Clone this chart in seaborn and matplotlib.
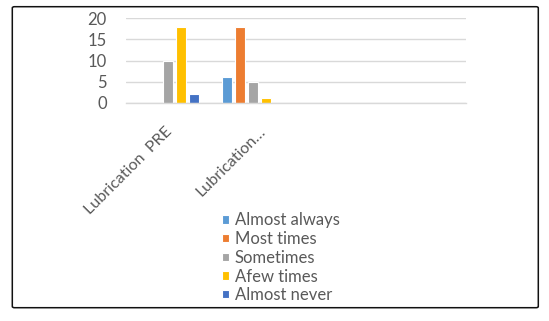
import matplotlib
matplotlib.use("Agg")
import matplotlib.pyplot as plt
import matplotlib.transforms as mtransforms
from matplotlib.patches import FancyBboxPatch
import seaborn as sns
import pandas as pd

# ---- data ----
categories = ["Lubrication  PRE", "Lubrication\u2026", " ", "  "]
series = ["Almost always", "Most times", "Sometimes", "Afew times", "Almost never"]
almost_always = [0, 6, 0, 0]
most_times = [0, 18, 0, 0]
sometimes = [10, 5, 0, 0]
afew_times = [18, 1, 0, 0]
almost_never = [2, 0, 0, 0]
colors = ["#5B9BD5", "#ED7D31", "#A5A5A5", "#FFC000", "#4472C4"]
y_ticks = [0, 5, 10, 15, 20]

rows = []
for s, vals in zip(series, [almost_always, most_times, sometimes, afew_times, almost_never]):
    for c, v in zip(categories, vals):
        rows.append({"category": c, "series": s, "value": v})
df = pd.DataFrame(rows)

sns.set_style("white")
plt.rcParams["font.family"] = ["Lato", "DejaVu Sans"]

DPI = 100
W, H = 549, 321
fig = plt.figure(figsize=(W / DPI, H / DPI), dpi=DPI)
ax = fig.add_axes([125.7 / W, 1 - 102.7 / H, (466 - 125.7) / W, (102.7 - 18.3) / H])

FS = 12.0
TXT = "#595959"
GRID = "#d9d9d9"

sns.barplot(data=df, x="category", y="value", hue="series", order=categories,
            hue_order=series, palette=colors, saturation=1, width=0.765, gap=0.23,
            edgecolor="white", linewidth=0.8, errorbar=None, ax=ax)

ax.set_ylim(0, 20)
ax.set_xlim(-0.5, 3.5)
ax.set_yticks(y_ticks)
ax.set_xlabel("")
ax.set_ylabel("")
ax.set_axisbelow(True)
ax.yaxis.grid(True, color=GRID, linewidth=1.0)
ax.xaxis.grid(False)
for sp in ["left", "top", "right"]:
    ax.spines[sp].set_visible(False)
ax.spines["bottom"].set_color(GRID)
ax.spines["bottom"].set_linewidth(1.0)

ax.tick_params(axis="y", length=0, pad=13.7, labelcolor=TXT, labelsize=FS)
ax.set_xticks(range(len(categories)))
ax.set_xticks([i - 0.5 for i in range(len(categories) + 1)], minor=True)
ax.set_xticklabels(categories, rotation=45, ha="right", va="center",
                   rotation_mode="anchor", color=TXT, fontsize=11.6)
ax.tick_params(axis="x", which="major", length=0, pad=19)
ax.tick_params(axis="x", which="minor", length=4, color=GRID, width=0.75)

offsets = [2, 10]
for lbl, off in zip(ax.get_xticklabels(), offsets):
    lbl.set_transform(lbl.get_transform() + mtransforms.ScaledTranslation(off / DPI, 0, fig.dpi_scale_trans))

handles, labels = ax.get_legend_handles_labels()
if ax.legend_ is not None:
    ax.legend_.remove()
fig.legend(handles, labels, loc="upper left",
           bbox_to_anchor=(222.3 / W, 1 - 212.5 / H), frameon=False,
           borderpad=0, borderaxespad=0, handlelength=0.4, handleheight=0.4,
           handletextpad=0.35, labelspacing=0.16, fontsize=FS, labelcolor=TXT)

border = FancyBboxPatch((12.3 / W, 1 - 307.7 / H), 526 / W, 301 / H,
                        boxstyle="round,pad=0,rounding_size=0.004",
                        transform=fig.transFigure, fill=False,
                        edgecolor="#111111", linewidth=1.1)
fig.add_artist(border)

fig.savefig("out.png", dpi=DPI)
